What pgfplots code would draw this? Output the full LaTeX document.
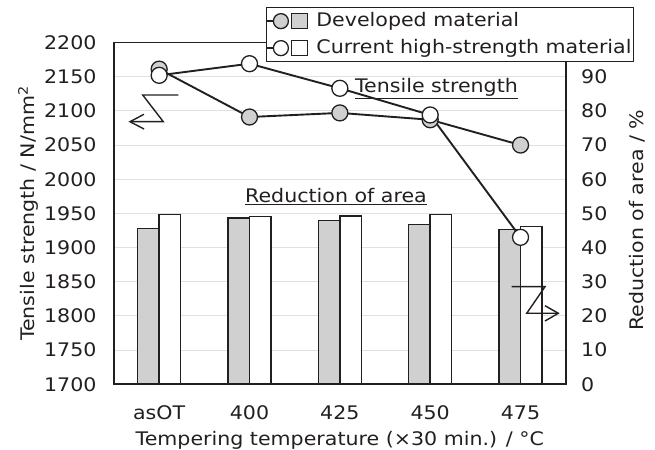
\documentclass[border=0pt]{standalone}
\usepackage{pgfplots}
\pgfplotsset{compat=1.18}
\usepackage{fontspec}
\setmainfont{DejaVu Sans}[FakeStretch=1.1]
\definecolor{devgray}{RGB}{208,208,208}
\definecolor{gridc}{RGB}{224,224,224}
\definecolor{linec}{RGB}{35,31,32}
\newcommand\f{\fontsize{18.7bp}{22bp}\selectfont}

\begin{document}
\begin{tikzpicture}
\path[use as bounding box] (0,0) rectangle (655bp,450bp);
\pgfplotsset{
  common/.style={
    scale only axis, width=451.7bp, height=341.8bp,
    at={(114bp,65.7bp)}, anchor=south west,
    xmin=-0.5, xmax=4.5,
    axis line style={line width=1.8bp, draw=linec},
    major tick length=0pt,
    tick label style={font=\f, text=linec},
    label style={font=\f, text=linec},
    /pgf/number format/1000 sep={},
    /pgf/number format/assume math mode=true,
  }
}
% Reduction of area (right axis, bars)
\begin{axis}[common,
  ymin=0, ymax=100, ytick={0,10,...,90},
  ymajorgrids, grid style={draw=gridc, line width=1bp},
  ytick pos=right, yticklabel pos=right,
  yticklabel={\pgfmathprintnumber[assume math mode=true]{\tick}},
  yticklabel style={anchor=west, xshift=12bp},
  xtick={0,1,2,3,4}, xticklabels={asOT,400,425,450,475},
  xtick pos=bottom,
  xticklabel style={anchor=base, yshift=-35bp},
  xlabel={Tempering temperature (×30 min.) / °C},
  xlabel style={at={(axis description cs:0.5,0)}, anchor=base, yshift=-61bp},
  ylabel={Reduction of area / \%},
  ylabel style={at={(axis description cs:1.1733,0.48)}, anchor=base, rotate=0},
  ybar=0pt, bar width=21.5bp,
]
\addplot[fill=devgray, draw=linec, line width=1.4bp] coordinates {(0,45.6) (1,48.7) (2,48.0) (3,46.7) (4,45.3)};
\addplot[fill=white, draw=linec, line width=1.4bp] coordinates {(0,49.6) (1,49.1) (2,49.2) (3,49.6) (4,46.1)};
\end{axis}
% Tensile strength (left axis, lines)
\begin{axis}[common,
  ymin=1700, ymax=2200, ytick={1700,1750,...,2200},
  ytick pos=left,
  yticklabel={\pgfmathprintnumber[assume math mode=true]{\tick}},
  yticklabel style={anchor=east, xshift=-14bp},
  xtick=\empty,
  ylabel={Tensile strength / N/mm\textsuperscript{2}},
  ylabel style={at={(axis description cs:-0.1771,0.5)}, anchor=base},
  legend style={at={(axis description cs:0.3365,1.1039)}, anchor=north west,
    draw=linec, line width=1.3bp, fill=white, font=\f,
    inner xsep=0bp, inner ysep=0bp, row sep=0bp,
    nodes={inner xsep=2bp, inner ysep=4.5bp, text height=14bp, text depth=4bp, text=linec}},
  legend cell align=left,
]
\addplot[draw=linec, line width=1.9bp, mark=*, mark size=8bp,
  mark options={fill=devgray, draw=linec, line width=1.3bp},
  legend image code/.code={
    \path[draw=none] (0bp,0bp) -- (47bp,0bp);
    \draw[line width=1.5bp, linec] (0bp,0bp) -- (6bp,0bp);
    \draw[line width=1.3bp, linec, fill=devgray] (13.5bp,0bp) circle (7.5bp);
    \draw[line width=1.3bp, linec, fill=devgray] (24bp,-7.5bp) rectangle (40bp,7.5bp);
  }] coordinates {(0,2161) (1,2091) (2,2097) (3,2087) (4,2050)};
\addlegendentry{Developed material}
\addplot[draw=linec, line width=1.9bp, mark=*, mark size=8bp,
  mark options={fill=white, draw=linec, line width=1.3bp},
  legend image code/.code={
    \path[draw=none] (0bp,0bp) -- (47bp,0bp);
    \draw[line width=1.5bp, linec] (0bp,0bp) -- (6bp,0bp);
    \draw[line width=1.3bp, linec, fill=white] (13.5bp,0bp) circle (7.5bp);
    \draw[line width=1.3bp, linec, fill=white] (24bp,-7.5bp) rectangle (40bp,7.5bp);
  }] coordinates {(0,2152) (1,2169) (2,2133) (3,2094) (4,1915)};
\addlegendentry{Current high-strength material}
\end{axis}
% axis break / arrow annotations
\draw[linec, line width=1.4bp] (178.3bp,355bp) -- (142.7bp,355bp) -- (163.3bp,328.3bp) -- (130bp,328.3bp);
\draw[linec, line width=1.4bp] (144bp,335.7bp) -- (130bp,328.3bp) -- (144bp,321bp);
\draw[linec, line width=1.4bp] (511.7bp,163.3bp) -- (545bp,163.3bp) -- (526.7bp,136.7bp) -- (558.3bp,136.7bp);
\draw[linec, line width=1.4bp] (545bp,144.3bp) -- (558.3bp,136.7bp) -- (545bp,129bp);
\node[font=\f, text=linec, anchor=base] at (436.5bp,357bp) {\underline{Tensile strength}};
\node[font=\f, text=linec, anchor=base] at (336bp,247bp) {\underline{Reduction of area}};
\end{tikzpicture}
\end{document}
